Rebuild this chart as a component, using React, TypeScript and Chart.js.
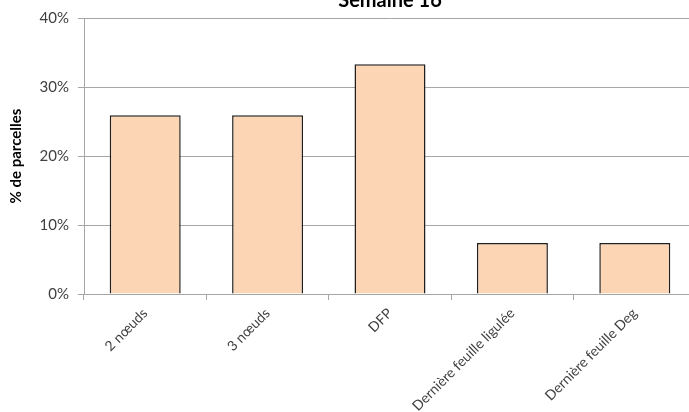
import React, { useEffect, useRef } from "react";
import { Chart, registerables } from "chart.js";

Chart.register(...registerables);

const categories = ["2 nœuds", "3 nœuds", "DFP", "Dernière feuille ligulée", "Dernière feuille Deg"];
const values = [25.9, 25.9, 33.3, 7.4, 7.4];
const yMin = 0;
const yMax = 40;
const yStep = 10;
const titleText = "Semaine 16";
const yTitle = "% de parcelles";

const CANVAS_W = 700;
const CANVAS_H = 450;
const CANVAS_TOP = -11;

export default function App() {
  const ref = useRef<HTMLCanvasElement | null>(null);

  useEffect(() => {
    if (!ref.current) return;
    const gray = "#A6A6A6";
    const chart = new Chart(ref.current, {
      type: "bar",
      data: {
        labels: categories,
        datasets: [
          {
            data: values,
            backgroundColor: "#FCD5B4",
            borderColor: "#1F1F1F",
            borderWidth: 1.5,
            barPercentage: 0.58,
            categoryPercentage: 1,
          },
        ],
      },
      options: {
        animation: false,
        responsive: false,
        devicePixelRatio: 1,
        layout: { padding: { left: 0, right: 4, top: 0, bottom: 0 } },
        plugins: {
          legend: { display: false },
          tooltip: { enabled: false },
          title: {
            display: true,
            text: titleText,
            fullSize: false,
            color: "#000",
            font: { family: "Lato", size: 20, weight: "bold" },
            padding: { top: 0, bottom: 5 },
          },
        },
        scales: {
          y: {
            min: yMin,
            max: yMax,
            ticks: {
              stepSize: yStep,
              callback: (v: any) => v + "%",
              color: "#404040",
              font: { family: "Lato", size: 15 },
              padding: 9,
            },
            grid: { color: gray, tickLength: 6, lineWidth: 1 },
            border: { color: gray, width: 1 },
            title: {
              display: true,
              text: yTitle,
              color: "#000",
              font: { family: "Lato", size: 15, weight: "bold" },
              padding: { top: 7, bottom: 4 },
            },
            afterFit: (s: any) => {
              s.width = 84;
            },
          },
          x: {
            offset: true,
            grid: { drawOnChartArea: false, color: gray, tickLength: 6, offset: true },
            border: { color: gray, width: 1 },
            ticks: {
              maxRotation: 45,
              minRotation: 45,
              autoSkip: false,
              color: "#404040",
              font: { family: "Lato", size: 14 },
              padding: 5,
            },
            afterFit: (s: any) => {
              s.height = CANVAS_H - 305;
            },
          },
        },
      },
    });
    return () => chart.destroy();
  }, []);

  return (
    <div
      style={{
        position: "fixed",
        left: 0,
        top: 0,
        width: 689,
        height: 412,
        overflow: "hidden",
        background: "#fff",
      }}
    >
      <canvas
        ref={ref}
        width={CANVAS_W}
        height={CANVAS_H}
        style={{ position: "absolute", left: 0, top: CANVAS_TOP, width: CANVAS_W, height: CANVAS_H }}
      />
    </div>
  );
}
